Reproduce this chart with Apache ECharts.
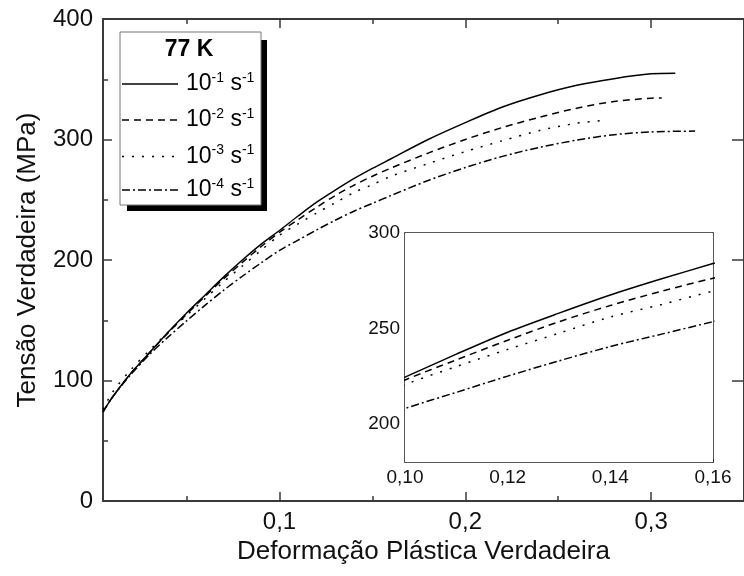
<!DOCTYPE html>
<html>
<head>
<meta charset="utf-8">
<script src="https://cdn.jsdelivr.net/npm/echarts@6.0.0/dist/echarts.min.js"></script>
<style>
  html, body { margin: 0; padding: 0; background: #fff; }
  #main { width: 744px; height: 576px; }
</style>
</head>
<body>
<div id="main"></div>
<script>
// dados (deformação x tensão, 77 K)
var strain = [0.005, 0.01, 0.02, 0.03, 0.04, 0.05, 0.06, 0.07, 0.08, 0.09, 0.10,
              0.11, 0.12, 0.13, 0.14, 0.15, 0.16, 0.18, 0.20, 0.22, 0.24, 0.26, 0.28, 0.30];

var stressE1 = [74, 86, 106, 123, 140, 156, 171, 186, 200, 213, 224.5,
                236.5, 248, 258, 267.5, 276, 284, 300, 314, 327, 337, 345, 350.5, 354.5];
var stressE2 = [74, 86, 106, 123, 139.5, 155, 170, 184.5, 198, 211, 223,
                233.5, 243.8, 253.5, 262, 269.5, 276.3, 288.7, 300, 310, 318.5, 326, 331.5, 334.3];
var stressE3 = [76, 90, 109, 125, 140, 154, 168, 182, 195, 208, 220.5,
                230, 239, 247.5, 256, 262.5, 269.5, 280, 290, 299, 307.5, 313.5, null, null];
var stressE4 = [74, 86, 105, 121.5, 136, 149.5, 162.5, 175, 186.5, 197.5, 208,
                216.5, 225, 233, 240.5, 247, 253.5, 266, 276.7, 286, 293.5, 299.5, 304, 306.3];

// último ponto de cada curva
var endStrain = [0.313, 0.3057, 0.2754, 0.3237];
var endStress = [355, 334.5, 316, 307];

var rateNames = ['10-1', '10-2', '10-3', '10-4'];
var exponents = ['-1', '-2', '-3', '-4'];

var xTicks = [0.1, 0.2, 0.3];
var xMinorTicks = [0.05, 0.15, 0.25];
var insetYTicks = [200, 250, 300];
var insetYMinor = [200, 225, 250, 275, 300];

var dashes = ['solid', [7, 5], [2, 8], [8, 3, 2, 3]];

function buildData(values, k) {
    var d = [];
    for (var i = 0; i < strain.length; i++) {
        if (values[i] != null) d.push([strain[i], values[i]]);
    }
    d.push([endStrain[k], endStress[k]]);
    return d;
}

var allStress = [stressE1, stressE2, stressE3, stressE4];

var chart = echarts.init(document.getElementById('main'));

var font = 'Liberation Sans, Arial, sans-serif';
var axisColor = '#3a3a3a';

var series = [];
for (var k = 0; k < 4; k++) {
    var data = buildData(allStress[k], k);
    series.push({
        name: rateNames[k],
        type: 'line',
        xAxisIndex: 0,
        yAxisIndex: 0,
        data: data,
        showSymbol: false,
        smooth: 0.3,
        lineStyle: { color: '#000', width: 1.5, type: dashes[k] },
        z: 3
    });
    // mesmo dado no detalhe
    series.push({
        name: rateNames[k] + ' inset',
        type: 'line',
        xAxisIndex: 4,
        yAxisIndex: 2,
        data: data,
        showSymbol: false,
        smooth: 0.3,
        clip: true,
        lineStyle: { color: '#000', width: 1.5, type: dashes[k] },
        z: 6
    });
}

// legenda desenhada à mão
var legendItems = [
    { type: 'rect', shape: { x: 127, y: 40, width: 140, height: 171 }, style: { fill: '#000' } },
    { type: 'rect', shape: { x: 120, y: 32, width: 141, height: 173 }, style: { fill: '#fff', stroke: '#777', lineWidth: 1 } },
    { type: 'text', x: 189, y: 50, style: { text: '77 K', font: 'bold 23px ' + font, fill: '#000', align: 'center', verticalAlign: 'middle' } }
];
var rowY = [84, 120, 156.5, 190];
for (var r = 0; r < 4; r++) {
    legendItems.push({
        type: 'line',
        shape: { x1: 122, y1: rowY[r], x2: 178, y2: rowY[r] },
        style: { stroke: '#000', lineWidth: 1.5, lineDash: dashes[r] === 'solid' ? null : dashes[r] }
    });
    legendItems.push({
        type: 'text',
        x: 186,
        y: rowY[r],
        style: {
            text: '{n|10}{e|' + exponents[r] + '}{n| s}{e|-1}',
            fill: '#000',
            align: 'left',
            verticalAlign: 'middle',
            rich: {
                n: { fontFamily: font, fontSize: 23, lineHeight: 26, fill: '#000' },
                e: { fontFamily: font, fontSize: 14, lineHeight: 14, verticalAlign: 'top', fill: '#000' }
            }
        }
    });
}

var option = {
    animation: false,
    backgroundColor: '#fff',
    textStyle: { fontFamily: font },
    grid: [
        { left: 103, top: 19, width: 649, height: 482 },
        { left: 405, top: 233, width: 308, height: 229, show: true, backgroundColor: '#fff', borderWidth: 0, z: 4 }
    ],
    xAxis: [
        {
            gridIndex: 0, type: 'value', min: 0.005, max: 0.35, position: 'bottom',
            name: 'Deformação Plástica Verdadeira', nameLocation: 'middle', nameGap: 38,
            nameTextStyle: { fontSize: 26, color: '#111', fontFamily: font },
            axisLine: { lineStyle: { color: axisColor, width: 2 } },
            axisTick: { inside: true, length: 9, customValues: xTicks, lineStyle: { color: axisColor, width: 1.5 } },
            axisLabel: { customValues: xTicks, fontSize: 24, color: '#111', margin: 9,
                formatter: function (v) { return String(v).replace('.', ','); } },
            splitLine: { show: false }
        },
        {
            gridIndex: 0, type: 'value', min: 0.005, max: 0.35, position: 'bottom',
            axisLine: { show: false },
            axisTick: { inside: true, length: 5, customValues: xMinorTicks, lineStyle: { color: axisColor, width: 1.5 } },
            axisLabel: { show: false },
            splitLine: { show: false }
        },
        {
            gridIndex: 0, type: 'value', min: 0.005, max: 0.35, position: 'top',
            axisLine: { lineStyle: { color: axisColor, width: 2 } },
            axisTick: { inside: true, length: 9, customValues: xTicks, lineStyle: { color: axisColor, width: 1.5 } },
            axisLabel: { show: false },
            splitLine: { show: false }
        },
        {
            gridIndex: 0, type: 'value', min: 0.005, max: 0.35, position: 'top',
            axisLine: { show: false },
            axisTick: { inside: true, length: 5, customValues: xMinorTicks, lineStyle: { color: axisColor, width: 1.5 } },
            axisLabel: { show: false },
            splitLine: { show: false }
        },
        {
            gridIndex: 1, type: 'value', min: 0.10, max: 0.16, interval: 0.02, position: 'bottom',
            axisLine: { lineStyle: { color: '#222', width: 1.5 } },
            axisTick: { inside: true, length: 3, lineStyle: { color: '#222' } },
            minorTick: { show: true, splitNumber: 2, length: 3, lineStyle: { color: '#222' } },
            axisLabel: { fontSize: 19, color: '#111', margin: 6,
                formatter: function (v) { return v.toFixed(2).replace('.', ','); } },
            splitLine: { show: false }
        },
        {
            gridIndex: 1, type: 'value', min: 0.10, max: 0.16, position: 'top',
            axisLine: { lineStyle: { color: '#222', width: 1.5 } },
            axisTick: { show: false }, axisLabel: { show: false }, splitLine: { show: false }
        }
    ],
    yAxis: [
        {
            gridIndex: 0, type: 'value', min: 0, max: 400, interval: 100, position: 'left',
            name: 'Tensão Verdadeira (MPa)', nameLocation: 'middle', nameGap: 62,
            nameTextStyle: { fontSize: 26, color: '#111', fontFamily: font },
            axisLine: { lineStyle: { color: axisColor, width: 2 } },
            axisTick: { inside: true, length: 9, lineStyle: { color: axisColor, width: 1.5 } },
            minorTick: { show: true, splitNumber: 2, length: 5, lineStyle: { color: axisColor, width: 1.5 } },
            axisLabel: { fontSize: 24, color: '#111', margin: 10 },
            splitLine: { show: false }
        },
        {
            gridIndex: 0, type: 'value', min: 0, max: 400, interval: 100, position: 'right',
            axisLine: { lineStyle: { color: axisColor, width: 2 } },
            axisTick: { inside: true, length: 12, lineStyle: { color: axisColor, width: 1.5 } },
            axisLabel: { show: false },
            splitLine: { show: false }
        },
        {
            gridIndex: 1, type: 'value', min: 180, max: 300, position: 'left',
            axisLine: { lineStyle: { color: '#222', width: 1.5 } },
            axisTick: { inside: true, length: 3, customValues: insetYMinor, lineStyle: { color: '#222' } },
            axisLabel: { customValues: insetYTicks, fontSize: 19, color: '#111', margin: 5 },
            splitLine: { show: false }
        },
        {
            gridIndex: 1, type: 'value', min: 180, max: 300, position: 'right',
            axisLine: { lineStyle: { color: '#222', width: 1.5 } },
            axisTick: { show: false }, axisLabel: { show: false }, splitLine: { show: false }
        }
    ],
    graphic: [{ type: 'group', z: 100, children: legendItems }],
    series: series
};

chart.setOption(option);
</script>
</body>
</html>
